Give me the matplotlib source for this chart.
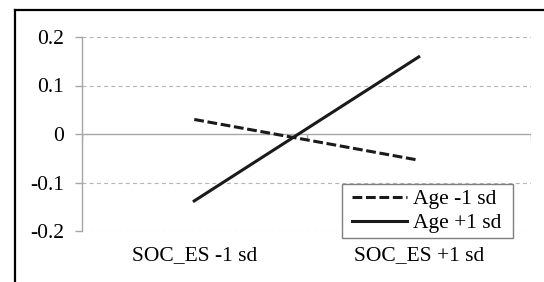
import matplotlib
matplotlib.use("Agg")
import matplotlib.pyplot as plt
from matplotlib.lines import Line2D
from matplotlib.patches import Rectangle

categories = ["SOC_ES -1 sd", "SOC_ES +1 sd"]
series_names = ["Age -1 sd", "Age +1 sd"]
age_minus = [0.03, -0.054]
age_plus = [-0.138, 0.159]
yticks = [-0.2, -0.1, 0, 0.1, 0.2]
ytick_labels = ["-0.2", "-0.1", "0", "0.1", "0.2"]

plt.rcParams['font.family'] = ['Liberation Serif', 'DejaVu Serif']
FS = 15.5
W, H = 544, 282
fig = plt.figure(figsize=(W / 100, H / 100), dpi=100)
ax = fig.add_axes([82 / W, (H - 231) / H, (531 - 82) / W, (231 - 37) / H])

grey = "#a6a6a6"
x = list(range(1, len(categories) + 1))
ax.set_xlim(0.5, len(categories) + 0.5)
ax.set_ylim(-0.2, 0.2)

for yv in yticks:
    if yv == 0:
        ax.axhline(yv, color=grey, lw=1.0, zorder=1)
    else:
        ax.axhline(yv, color="#b4b4b4", lw=0.8, ls=(0, (3.5, 3)), zorder=1)

# category tick marks on zero line
ax.vlines([0.5 + i for i in range(len(categories) + 1)], -0.0125, 0,
          color=grey, lw=1.0, zorder=1)

ax.plot(x, age_minus, color="#1a1a1a", lw=2.2, ls=(0, (3.2, 1.2)),
        solid_capstyle="butt", label=series_names[0], zorder=3)
ax.plot(x, age_plus, color="#1a1a1a", lw=2.2, label=series_names[1], zorder=3)

for s in ["top", "right", "bottom"]:
    ax.spines[s].set_visible(False)
ax.spines["left"].set_color(grey)
ax.spines["left"].set_linewidth(1.0)

ax.set_yticks(yticks)
ax.set_yticklabels(ytick_labels, fontsize=FS)
ax.tick_params(axis="y", length=5, width=1.0, color=grey, pad=8)
ax.set_xticks(x)
ax.set_xticklabels(categories, fontsize=FS)
ax.tick_params(axis="x", length=0, pad=11)

# legend frame drawn as a separate box
fig.add_artist(Rectangle((342 / W, (H - 238) / H), (513 - 342) / W, (238 - 184) / H,
                         transform=fig.transFigure, facecolor="white",
                         edgecolor="#7f7f7f", lw=1.0, zorder=4))
handles, labels = ax.get_legend_handles_labels()
leg = fig.legend(handles, labels, loc="upper left",
                 bbox_to_anchor=(352 / W, (H - 189) / H),
                 bbox_transform=fig.transFigure, fontsize=FS, frameon=False,
                 handlelength=2.55, handletextpad=0.28, borderpad=0,
                 borderaxespad=0, labelspacing=0.2)
leg.set_zorder(5)

# outer black border (top and left)
fig.add_artist(Line2D([15 / W, 1], [1 - 10 / H, 1 - 10 / H], color="black",
                      lw=1.6, transform=fig.transFigure))
fig.add_artist(Line2D([15 / W, 15 / W], [0, 1 - 10 / H], color="black",
                      lw=1.6, transform=fig.transFigure))

fig.savefig("out.png", dpi=100)
